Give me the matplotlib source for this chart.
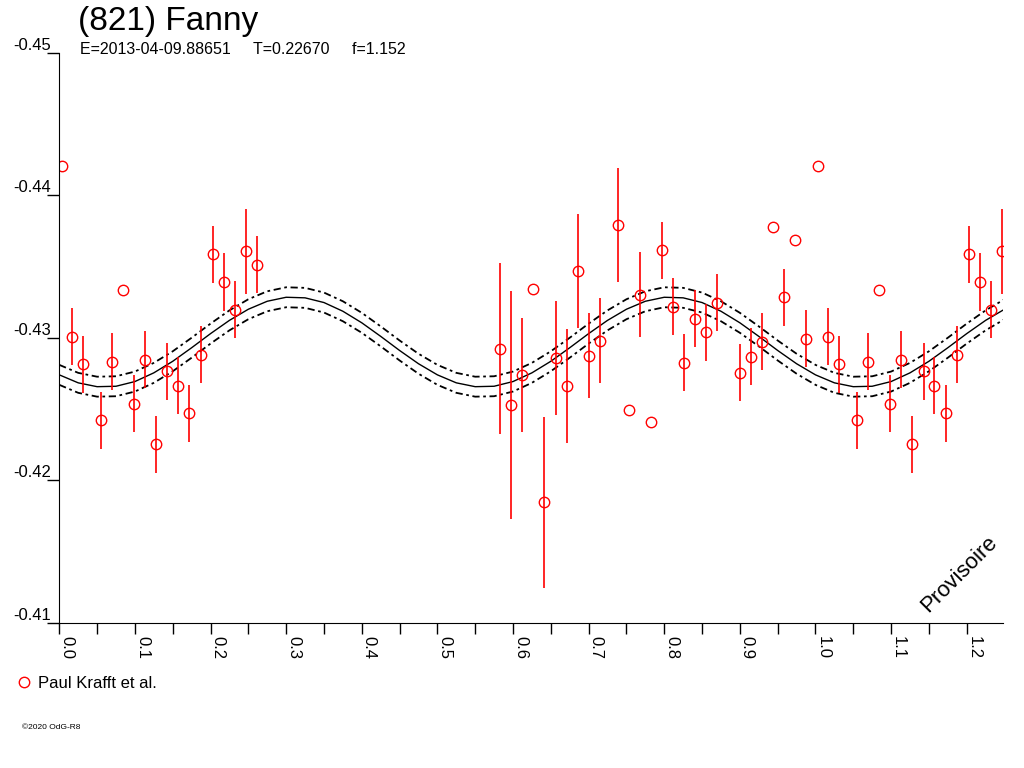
import numpy as np
import matplotlib
matplotlib.use("Agg")
import matplotlib.pyplot as plt
from matplotlib.ticker import MultipleLocator, FormatStrFormatter

plt.rcParams["font.family"] = ["Liberation Sans", "DejaVu Sans"]

# observations (phase, relative magnitude, error; 0 = no error bar)
phase = [0.0032, 0.0172, 0.0317, 0.0548, 0.0693, 0.0839, 0.0992, 0.1134, 0.1279,
         0.1429, 0.1574, 0.1720, 0.1870, 0.2029, 0.2175, 0.2324, 0.2470, 0.2615,
         0.5829, 0.5975, 0.6125, 0.6270, 0.6416, 0.6566, 0.6712, 0.6857, 0.7007,
         0.7152, 0.7386, 0.7536, 0.7681, 0.7827, 0.7972, 0.8122, 0.8267, 0.8413,
         0.8558, 0.8704, 0.9000, 0.9146, 0.9295, 0.9437, 0.9582, 0.9732, 0.9877]
mag = [-0.44204, -0.43006, -0.42814, -0.42422, -0.42831, -0.43338, -0.42539, -0.42847,
       -0.42252, -0.42765, -0.42665, -0.42471, -0.42880, -0.43587, -0.43391, -0.43198,
       -0.43606, -0.43513, -0.42924, -0.42529, -0.42737, -0.43342, -0.41845, -0.42856,
       -0.42660, -0.43468, -0.42875, -0.42980, -0.43790, -0.42492, -0.43303, -0.42408,
       -0.43613, -0.43218, -0.42824, -0.43132, -0.43039, -0.43244, -0.42756, -0.42866,
       -0.42971, -0.43776, -0.43284, -0.43688, -0.42994]
err = [0, 0.002, 0.002, 0.002, 0.002, 0, 0.002, 0.002, 0.002,
       0.002, 0.002, 0.002, 0.002, 0.002, 0.002, 0.002, 0.003, 0.002,
       0.006, 0.008, 0.004, 0, 0.006, 0.004, 0.004, 0.004, 0.003,
       0.003, 0.004, 0, 0.003, 0, 0.002, 0.002, 0.002, 0.002,
       0.002, 0.002, 0.002, 0.002, 0.002, 0, 0.002, 0, 0.002]

# fitted model over one half-period (curve repeats every 0.5 in phase)
model_phase = [0.000, 0.025, 0.050, 0.075, 0.100, 0.125, 0.150, 0.175, 0.200, 0.225,
               0.250, 0.275, 0.300, 0.325, 0.350, 0.375, 0.400, 0.425, 0.450, 0.475, 0.500]
model_mag = [-0.42740, -0.42684, -0.42657, -0.42660, -0.42693, -0.42754, -0.42835,
             -0.42930, -0.43029, -0.43122, -0.43200, -0.43256, -0.43284, -0.43280,
             -0.43247, -0.43186, -0.43105, -0.43010, -0.42911, -0.42818, -0.42740]
model_sigma = 0.0007
model_period = 0.5

fig = plt.figure(figsize=(10.24, 7.68), dpi=100)
ax = fig.add_axes([0.0579, 0.1888, 0.9216, 0.7428])

mp = np.asarray(model_phase)
mm = np.asarray(model_mag)
mph = np.concatenate([mp[:-1] + k * model_period for k in range(3)] + [mp[-1:] + 2 * model_period])
mmg = np.concatenate([mm[:-1]] * 3 + [mm[-1:]])
ax.plot(mph, mmg, color="black", lw=1)
for s in (-1, 1):
    ax.plot(mph, mmg + s * model_sigma, color="black", lw=1.3, dashes=(4, 2, 1.5, 2))

ph = np.asarray(phase)
mg = np.asarray(mag)
er = np.asarray(err)
rep = ph < 0.3
x = np.concatenate([ph, ph[rep] + 1])
y = np.concatenate([mg, mg[rep]])
e = np.concatenate([er, er[rep]])

ax.errorbar(x, y, yerr=e, fmt="none", ecolor="red", elinewidth=1.2, capsize=0)
ax.plot(x, y, "o", mfc="none", mec="red", ms=7.5, mew=1, label="Paul Krafft et al.")

ax.set_xlim(0, 1.248)
ax.set_ylim(-0.41, -0.45)

for side in ("top", "right"):
    ax.spines[side].set_visible(False)

ax.set_yticks([-0.45, -0.44, -0.43, -0.42, -0.41])
ax.yaxis.set_major_formatter(FormatStrFormatter("%.2f"))
ax.tick_params(axis="y", length=9, width=1, pad=-3, labelsize=12)
for lab in ax.get_yticklabels():
    lab.set_va("bottom")

ax.xaxis.set_major_locator(MultipleLocator(0.1))
ax.xaxis.set_minor_locator(MultipleLocator(0.05))
ax.xaxis.set_major_formatter(FormatStrFormatter("%.1f"))
ax.tick_params(axis="x", which="both", length=8, width=1, pad=1, labelsize=12)
for lab in ax.get_xticklabels():
    lab.set_rotation(-90)
    lab.set_ha("left")

fig.text(78 / 1024, 1 - 30 / 768, "(821) Fanny", fontsize=24, va="baseline")
fig.text(80 / 1024, 1 - 54 / 768,
         "E=2013-04-09.88651     T=0.22670     f=1.152", fontsize=11.5, va="baseline")
fig.text(959 / 1024, 1 - 574 / 768, "Provisoire", fontsize=16, rotation=45,
         ha="center", va="center")
fig.text(22 / 1024, 1 - 729 / 768, "©2020 OdG-R8", fontsize=6)

ax.legend(loc="center left", bbox_to_anchor=(16 / 1024, 1 - 683 / 768),
          bbox_transform=fig.transFigure, frameon=False, fontsize=12,
          borderpad=0, borderaxespad=0, handlelength=1, handletextpad=0.3)

fig.savefig("out.png", dpi=100, facecolor="white")
